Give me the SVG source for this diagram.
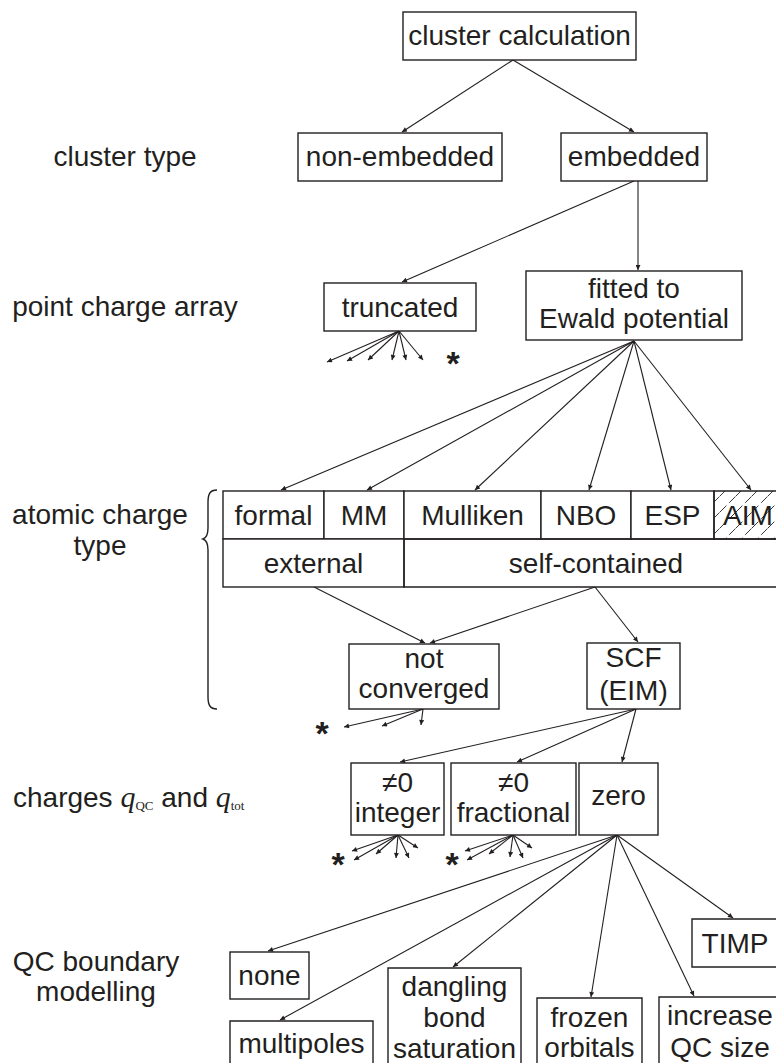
<svg xmlns="http://www.w3.org/2000/svg" width="776" height="1063" viewBox="0 0 776 1063">
<style>
  text { font-family: "Liberation Sans", Arial, sans-serif; font-size: 28px; fill: #231f20; }
  .c { text-anchor: middle; }
  .box { fill: #ffffff; stroke: #231f20; stroke-width: 1.4; }
  .edge { fill: none; stroke: #231f20; stroke-width: 1.4; }
  .conn line { stroke: #231f20; stroke-width: 1.1; marker-end: url(#arr); }
  .star { font-size: 34px; font-weight: bold; text-anchor: middle; }
  .serif { font-family: "Liberation Serif", "Times New Roman", serif; }
</style>
<defs>
  <marker id="arr" viewBox="0 0 10 10" refX="10" refY="5" markerWidth="7" markerHeight="5" markerUnits="userSpaceOnUse" orient="auto">
    <path d="M0,0 L10,5 L0,10 z" fill="#231f20"/>
  </marker>
  <pattern id="hatch" width="16" height="16" patternUnits="userSpaceOnUse">
    <path d="M-4,4 L4,-4 M0,16 L16,0 M12,20 L20,12" stroke="#231f20" stroke-width="0.9" stroke-dasharray="9 4"/>
  </pattern>
</defs>
<rect width="776" height="1063" fill="#ffffff"/>

<g id="labels">
  <text class="c" x="125" y="166">cluster type</text>
  <text class="c" x="125" y="316">point charge array</text>
  <text class="c" x="100" y="524">atomic charge</text>
  <text class="c" x="100" y="555">type</text>
  <text x="13" y="807">charges <tspan class="serif" font-style="italic" font-size="30">q</tspan><tspan class="serif" font-size="13" dy="3">QC</tspan><tspan dy="-3"> and </tspan><tspan class="serif" font-style="italic" font-size="30">q</tspan><tspan class="serif" font-size="13" dy="3">tot</tspan></text>
  <text class="c" x="96" y="971">QC boundary</text>
  <text class="c" x="96" y="1001">modelling</text>
  <path id="brace" class="edge" d="M217,490 C210,490 208,494 208,502 L208,528 C208,535 206,538 203,539 C206,540 208,543 208,550 L208,697 C208,705 210,709 217,709"/>
</g>

<g id="connectors" class="conn">
  <line x1="513" y1="60" x2="402" y2="132"/>
  <line x1="513" y1="60" x2="634" y2="132"/>
  <line x1="634" y1="181" x2="402" y2="282"/>
  <line x1="638" y1="181" x2="638" y2="270"/>
  <line x1="399" y1="331" x2="327" y2="362"/>
  <line x1="399" y1="331" x2="347" y2="361"/>
  <line x1="399" y1="331" x2="368" y2="360"/>
  <line x1="399" y1="331" x2="392" y2="360"/>
  <line x1="399" y1="331" x2="406" y2="360"/>
  <line x1="399" y1="331" x2="423" y2="360"/>
  <line x1="634" y1="341" x2="281" y2="490"/>
  <line x1="634" y1="341" x2="367" y2="490"/>
  <line x1="634" y1="341" x2="475" y2="490"/>
  <line x1="634" y1="341" x2="589" y2="490"/>
  <line x1="634" y1="341" x2="671" y2="490"/>
  <line x1="634" y1="341" x2="751" y2="490"/>
  <line x1="314" y1="587" x2="425" y2="643"/>
  <line x1="595" y1="587" x2="430" y2="643"/>
  <line x1="595" y1="587" x2="638" y2="642"/>
  <line x1="423" y1="709" x2="344" y2="727"/>
  <line x1="423" y1="709" x2="382" y2="726"/>
  <line x1="423" y1="709" x2="421" y2="725"/>
  <line x1="636" y1="709" x2="400" y2="762"/>
  <line x1="636" y1="709" x2="517" y2="762"/>
  <line x1="636" y1="709" x2="622" y2="762"/>
  <line x1="398" y1="835" x2="352" y2="851"/>
  <line x1="398" y1="835" x2="354" y2="860"/>
  <line x1="398" y1="835" x2="376" y2="854"/>
  <line x1="398" y1="835" x2="396" y2="858"/>
  <line x1="398" y1="835" x2="409" y2="858"/>
  <line x1="398" y1="835" x2="418" y2="848"/>
  <line x1="513" y1="835" x2="465" y2="851"/>
  <line x1="513" y1="835" x2="467" y2="860"/>
  <line x1="513" y1="835" x2="489" y2="854"/>
  <line x1="513" y1="835" x2="510" y2="857"/>
  <line x1="513" y1="835" x2="523" y2="858"/>
  <line x1="513" y1="835" x2="532" y2="848"/>
  <line x1="617" y1="835" x2="268" y2="951"/>
  <line x1="617" y1="835" x2="280" y2="1020"/>
  <line x1="617" y1="835" x2="453" y2="967"/>
  <line x1="617" y1="835" x2="591" y2="997"/>
  <line x1="617" y1="835" x2="694" y2="996"/>
  <line x1="617" y1="835" x2="733" y2="918"/>
</g>

<g id="stars">
  <text class="star" x="453" y="375">*</text>
  <text class="star" x="322" y="745">*</text>
  <text class="star" x="338" y="876">*</text>
  <text class="star" x="452" y="876">*</text>
</g>

<g id="n-cluster-calculation">
  <rect class="box" x="403" y="12" width="233" height="48"/>
  <text class="c" x="519.5" y="45">cluster calculation</text>
</g>
<g id="n-non-embedded">
  <rect class="box" x="298" y="133" width="204" height="48"/>
  <text class="c" x="400" y="166">non-embedded</text>
</g>
<g id="n-embedded">
  <rect class="box" x="561" y="133" width="146" height="48"/>
  <text class="c" x="634" y="166">embedded</text>
</g>
<g id="n-truncated">
  <rect class="box" x="324" y="283" width="152" height="48"/>
  <text class="c" x="400" y="317">truncated</text>
</g>
<g id="n-fitted">
  <rect class="box" x="526" y="271" width="216" height="69"/>
  <text class="c" x="634" y="298">fitted to</text>
  <text class="c" x="634" y="328">Ewald potential</text>
</g>

<g id="n-formal">
  <rect class="box" x="223" y="491" width="101" height="48"/>
  <text class="c" x="273.5" y="525">formal</text>
</g>
<g id="n-mm">
  <rect class="box" x="324" y="491" width="80" height="48"/>
  <text class="c" x="364" y="525">MM</text>
</g>
<g id="n-mulliken">
  <rect class="box" x="404" y="491" width="137" height="48"/>
  <text class="c" x="472.5" y="525">Mulliken</text>
</g>
<g id="n-nbo">
  <rect class="box" x="541" y="491" width="90" height="48"/>
  <text class="c" x="586" y="525">NBO</text>
</g>
<g id="n-esp">
  <rect class="box" x="631" y="491" width="83" height="48"/>
  <text class="c" x="672.5" y="525">ESP</text>
</g>
<g id="n-aim">
  <rect x="714" y="491" width="62" height="48" fill="url(#hatch)"/>
  <path class="edge" d="M776,491 H714 V539 H776"/>
  <text class="c" x="748" y="525">AIM</text>
</g>
<g id="n-external">
  <rect class="box" x="223" y="539" width="181" height="48"/>
  <text class="c" x="313.5" y="573">external</text>
</g>
<g id="n-self-contained">
  <path class="edge" d="M776,539 H404 V587 H776"/>
  <text class="c" x="596" y="573">self-contained</text>
</g>

<g id="n-not-converged">
  <rect class="box" x="349" y="644" width="150" height="65"/>
  <text class="c" x="424" y="668">not</text>
  <text class="c" x="424" y="698">converged</text>
</g>
<g id="n-scf">
  <rect class="box" x="587" y="643" width="93" height="66"/>
  <text class="c" x="633.5" y="667">SCF</text>
  <text class="c" x="633.5" y="700">(EIM)</text>
</g>

<g id="n-integer">
  <rect class="box" x="351" y="763" width="93" height="72"/>
  <text class="c" x="397.5" y="792">≠0</text>
  <text class="c" x="397.5" y="822">integer</text>
</g>
<g id="n-fractional">
  <rect class="box" x="451" y="763" width="125" height="72"/>
  <text class="c" x="513.5" y="792">≠0</text>
  <text class="c" x="513.5" y="822">fractional</text>
</g>
<g id="n-zero">
  <rect class="box" x="579" y="763" width="79" height="72"/>
  <text class="c" x="618.5" y="805">zero</text>
</g>

<g id="n-timp">
  <path class="edge" d="M776,919 H692 V967 H776"/>
  <text class="c" x="735" y="953">TIMP</text>
</g>
<g id="n-none">
  <rect class="box" x="230" y="952" width="79" height="47"/>
  <text class="c" x="269.5" y="985">none</text>
</g>
<g id="n-multipoles">
  <path class="edge" d="M230,1063 V1021 H373 V1063"/>
  <text class="c" x="301.5" y="1053">multipoles</text>
</g>
<g id="n-dangling">
  <path class="edge" d="M388,1063 V968 H521 V1063"/>
  <text class="c" x="454.5" y="996">dangling</text>
  <text class="c" x="454.5" y="1027">bond</text>
  <text class="c" x="454.5" y="1058">saturation</text>
</g>
<g id="n-frozen">
  <path class="edge" d="M537,1063 V998 H642 V1063"/>
  <text class="c" x="589.5" y="1027">frozen</text>
  <text class="c" x="589.5" y="1057">orbitals</text>
</g>
<g id="n-increase">
  <path class="edge" d="M659,1063 V997 H776"/>
  <text class="c" x="720" y="1025">increase</text>
  <text class="c" x="720" y="1057">QC size</text>
</g>
</svg>
